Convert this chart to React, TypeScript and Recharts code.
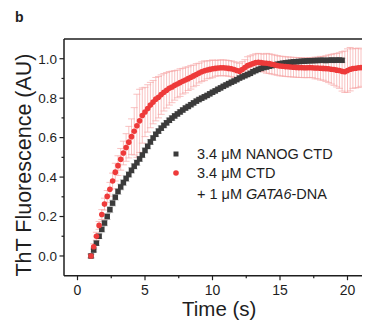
import { ScatterChart, Scatter, XAxis, YAxis, ErrorBar, ReferenceLine, Legend } from "recharts";

// sampling times (s)
const time = [
  1.0, 1.2, 1.4, 1.6, 1.8, 2.0, 2.2, 2.4, 2.6, 2.8,
  3.0, 3.2, 3.4, 3.6, 3.8, 4.0, 4.2, 4.4, 4.6, 4.8,
  5.0, 5.2, 5.4, 5.6, 5.8, 6.0, 6.2, 6.4, 6.6, 6.8,
  7.0, 7.2, 7.4, 7.6, 7.8, 8.0, 8.2, 8.4, 8.6, 8.8,
  9.0, 9.2, 9.4, 9.6, 9.8, 10.0, 10.2, 10.4, 10.6, 10.8,
  11.0, 11.2, 11.4, 11.6, 11.8, 12.0, 12.2, 12.4, 12.6, 12.8,
  13.0, 13.2, 13.4, 13.6, 13.8, 14.0, 14.2, 14.4, 14.6, 14.8,
  15.0, 15.2, 15.4, 15.6, 15.8, 16.0, 16.2, 16.4, 16.6, 16.8,
  17.0, 17.2, 17.4, 17.6, 17.8, 18.0, 18.2, 18.4, 18.6, 18.8,
  19.0, 19.2, 19.4, 19.6, 19.8, 20.0, 20.2, 20.4, 20.6, 20.8,
  21.0,
];

// 3.4 uM NANOG CTD
const nanogCtd = [
  0.0, 0.03, 0.065, 0.1, 0.135, 0.167, 0.2, 0.235, 0.268, 0.298,
  0.327, 0.35, 0.372, 0.393, 0.413, 0.434, 0.455, 0.473, 0.492, 0.512,
  0.535, 0.556, 0.578, 0.598, 0.617, 0.633, 0.648, 0.662, 0.675, 0.688,
  0.699, 0.71, 0.72, 0.73, 0.74, 0.75, 0.758, 0.767, 0.776, 0.785,
  0.793, 0.8, 0.807, 0.814, 0.822, 0.83, 0.837, 0.845, 0.852, 0.86,
  0.867, 0.874, 0.881, 0.887, 0.894, 0.902, 0.908, 0.914, 0.92, 0.926,
  0.934, 0.94, 0.946, 0.951, 0.955, 0.958, 0.962, 0.965, 0.968, 0.972,
  0.975, 0.977, 0.979, 0.981, 0.982, 0.984, 0.985, 0.986, 0.987, 0.988,
  0.989, 0.99, 0.99, 0.991, 0.991, 0.992, 0.992, 0.991, 0.992, 0.993,
  0.992, 0.993, 0.993, 0.992,
];
const nanogCtdErr = [
  0.01, 0.01, 0.012, 0.012, 0.014, 0.014, 0.015, 0.015, 0.015, 0.015,
  0.015, 0.015, 0.015, 0.015, 0.014, 0.014, 0.014, 0.014, 0.013, 0.013,
  0.013, 0.013, 0.013, 0.012, 0.012, 0.012, 0.012, 0.012, 0.012, 0.012,
  0.012, 0.012, 0.011, 0.011, 0.011, 0.011, 0.011, 0.011, 0.011, 0.011,
  0.011, 0.011, 0.01, 0.01, 0.01, 0.01, 0.01, 0.01, 0.01, 0.01,
  0.01, 0.01, 0.01, 0.01, 0.01, 0.01, 0.01, 0.01, 0.01, 0.01,
  0.01, 0.01, 0.01, 0.01, 0.01, 0.01, 0.01, 0.01, 0.01, 0.01,
  0.01, 0.01, 0.01, 0.01, 0.01, 0.01, 0.01, 0.01, 0.01, 0.01,
  0.01, 0.01, 0.01, 0.01, 0.01, 0.01, 0.01, 0.01, 0.01, 0.01,
  0.01, 0.01, 0.01, 0.01,
];

// 3.4 uM CTD + 1 uM GATA6-DNA
const ctdWithDna = [
  0.0, 0.047, 0.1, 0.155, 0.21, 0.263, 0.302, 0.338, 0.38, 0.425,
  0.458, 0.49, 0.522, 0.55, 0.577, 0.605, 0.632, 0.66, 0.685, 0.712,
  0.73, 0.748, 0.765, 0.78, 0.795, 0.805, 0.818, 0.83, 0.84, 0.85,
  0.857, 0.865, 0.872, 0.879, 0.886, 0.892, 0.899, 0.906, 0.913, 0.92,
  0.927, 0.934, 0.939, 0.943, 0.946, 0.949, 0.951, 0.953, 0.954, 0.954,
  0.953, 0.951, 0.949, 0.945, 0.94, 0.937, 0.945, 0.955, 0.965, 0.97,
  0.975, 0.98, 0.982, 0.98, 0.978, 0.977, 0.975, 0.972, 0.969, 0.966,
  0.963, 0.962, 0.96, 0.959, 0.958, 0.957, 0.956, 0.955, 0.955, 0.954,
  0.954, 0.955, 0.954, 0.953, 0.953, 0.952, 0.951, 0.95, 0.949, 0.947,
  0.945, 0.942, 0.94, 0.936, 0.934, 0.94, 0.947, 0.95, 0.952, 0.954,
  0.955,
];
const ctdWithDnaErr = [
  0.01, 0.015, 0.02, 0.02, 0.025, 0.03, 0.03, 0.035, 0.04, 0.045,
  0.05, 0.055, 0.06, 0.07, 0.08, 0.09, 0.12, 0.16, 0.16, 0.14,
  0.125, 0.12, 0.115, 0.11, 0.11, 0.105, 0.1, 0.095, 0.09, 0.085,
  0.08, 0.075, 0.07, 0.07, 0.065, 0.065, 0.06, 0.06, 0.055, 0.055,
  0.05, 0.05, 0.05, 0.045, 0.045, 0.045, 0.04, 0.04, 0.04, 0.04,
  0.04, 0.04, 0.04, 0.04, 0.04, 0.04, 0.04, 0.04, 0.045, 0.045,
  0.045, 0.045, 0.045, 0.045, 0.045, 0.05, 0.05, 0.05, 0.05, 0.05,
  0.05, 0.05, 0.05, 0.05, 0.05, 0.05, 0.05, 0.05, 0.05, 0.05,
  0.05, 0.05, 0.05, 0.055, 0.055, 0.06, 0.06, 0.065, 0.07, 0.075,
  0.08, 0.085, 0.09, 0.1, 0.105, 0.11, 0.11, 0.1, 0.1, 0.1,
  0.095,
];

const xTicks = [0, 2.5, 5, 7.5, 10, 12.5, 15, 17.5, 20];
const yTicks = [0, 0.1, 0.2, 0.3, 0.4, 0.5, 0.6, 0.7, 0.8, 0.9, 1.0];

const GRAY = "#3b3b3b";
const GRAY_ERR = "#c4c4c4";
const RED = "#ee3a3a";
const RED_ERR = "#f6a8a8";
const INK = "#1e1e1e";
const FONT = '"Liberation Sans", Arial, sans-serif';

const grayData = nanogCtd.map((y, i) => ({ x: time[i], y, err: nanogCtdErr[i] }));
const redData = ctdWithDna.map((y, i) => ({ x: time[i], y, err: ctdWithDnaErr[i] }));

function XTick({ x, y, payload }: any) {
  const major = payload.value % 5 === 0;
  return (
    <g>
      <line x1={x} x2={x} y1={y} y2={y + (major ? 4.5 : 2.5)} stroke={INK} strokeWidth={1.2} />
      {major && (
        <text x={x} y={y + 19} textAnchor="middle" fontSize={14} fill={INK} fontFamily={FONT}>
          {payload.value}
        </text>
      )}
    </g>
  );
}

function YTick({ x, y, payload }: any) {
  const major = Math.round(payload.value * 10) % 2 === 0;
  return (
    <g>
      <line x1={x - (major ? 4.5 : 2.5)} x2={x} y1={y} y2={y} stroke={INK} strokeWidth={1.2} />
      {major && (
        <text x={x - 7} y={y} dy="0.36em" textAnchor="end" fontSize={13.5} fill={INK} fontFamily={FONT}>
          {payload.value.toFixed(1)}
        </text>
      )}
    </g>
  );
}

function Square({ cx, cy }: any) {
  return <rect x={cx - 2.75} y={cy - 2.75} width={5.5} height={5.5} fill={GRAY} />;
}

function Dot({ cx, cy }: any) {
  return <circle cx={cx} cy={cy} r={2.8} fill={RED} />;
}

function LegendBox() {
  const t = { fontSize: 14.5, fill: INK, fontFamily: FONT };
  return (
    <svg width={200} height={62} style={{ display: "block" }}>
      <rect x={5.5} y={7.5} width={5} height={5} fill={GRAY} />
      <text x={29} y={15} {...t}>3.4 μM NANOG CTD</text>
      <circle cx={8} cy={29} r={2.8} fill={RED} />
      <text x={29} y={34} {...t}>3.4 μM CTD</text>
      <text x={29} y={55} {...t}>
        + 1 μM <tspan fontStyle="italic">GATA6</tspan>-DNA
      </text>
    </svg>
  );
}

export default function App() {
  return (
    <div style={{ width: 362, height: 317, overflow: "hidden", position: "relative" }}>
      <ScatterChart width={380} height={317} margin={{ top: 31, right: 13.5, bottom: 0, left: 0 }}>
        <XAxis
          type="number"
          dataKey="x"
          domain={[-1, 22]}
          ticks={xTicks}
          interval={0}
          allowDataOverflow
          height={49.3}
          tickLine={false}
          tickSize={0}
          tickMargin={0}
          tick={<XTick />}
          axisLine={{ stroke: INK, strokeWidth: 1.5 }}
        />
        <YAxis
          type="number"
          dataKey="y"
          domain={[-0.1, 1.1]}
          ticks={yTicks}
          interval={0}
          allowDataOverflow
          width={56}
          tickLine={false}
          tickSize={0}
          tickMargin={0}
          tick={<YTick />}
          axisLine={{ stroke: INK, strokeWidth: 1.5 }}
        />
        <ReferenceLine y={1.1} stroke={INK} strokeWidth={1.5} />
        <Scatter name="3.4 μM NANOG CTD" data={grayData} shape={<Square />} isAnimationActive={false}>
          <ErrorBar dataKey="err" direction="y" width={3.5} stroke={GRAY_ERR} strokeWidth={0.8} />
        </Scatter>
        <Scatter name="3.4 μM CTD + 1 μM GATA6-DNA" data={redData} shape={<Dot />} isAnimationActive={false}>
          <ErrorBar dataKey="err" direction="y" width={3.5} stroke={RED_ERR} strokeWidth={0.7} />
        </Scatter>
        <Legend
          layout="vertical"
          align="center"
          verticalAlign="middle"
          content={<LegendBox />}
          wrapperStyle={{ left: 160, top: 136, width: 200 }}
        />
        <text x={7} y={13.7} fontSize={14} fontWeight="bold" fill={INK} fontFamily={FONT}>b</text>
        <text
          x={22.7}
          y={157}
          transform="rotate(-90, 22.7, 157)"
          textAnchor="middle"
          fontSize={21.5}
          fill={INK}
          fontFamily={FONT}
        >
          ThT Fluorescence (AU)
        </text>
        <text x={211.25} y={308} textAnchor="middle" fontSize={20.5} fill={INK} fontFamily={FONT}>
          Time (s)
        </text>
      </ScatterChart>
    </div>
  );
}
